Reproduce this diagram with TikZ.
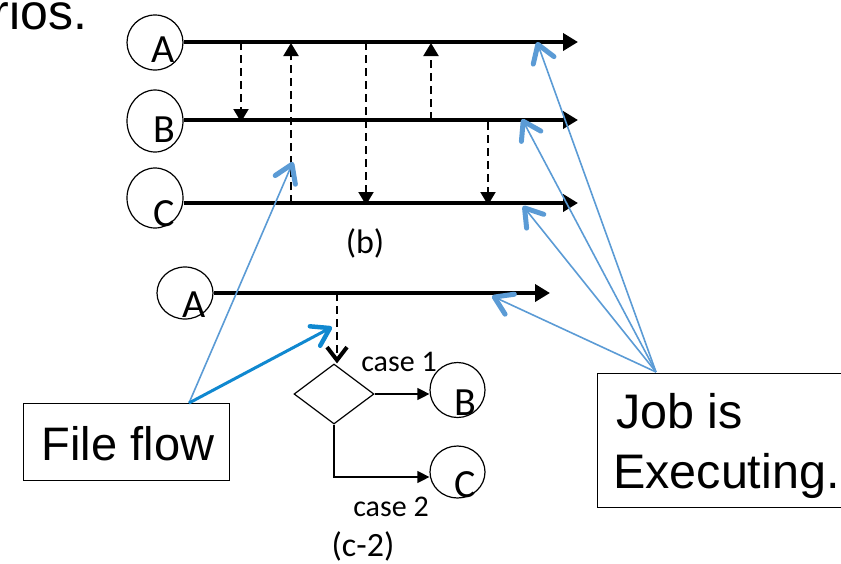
\documentclass[tikz,border=0pt]{standalone}
\usepackage{fontspec}
\setmainfont{Liberation Sans}
\newfontfamily\calib{Carlito}
\usetikzlibrary{arrows.meta,shapes.geometric}
\definecolor{noteblue}{RGB}{91,155,213}
\definecolor{flowblue}{RGB}{16,136,208}

\begin{document}
\begin{tikzpicture}[x=1pt,y=-1pt,
  proc/.style={draw,ellipse,line width=1.2pt,minimum width=56pt,inner sep=0pt},
  letter/.style={font=\calib\fontsize{40}{40}\selectfont,inner sep=0pt,anchor=base},
  caption/.style={font=\calib\fontsize{34}{34}\selectfont,inner sep=0pt},
  caselbl/.style={font=\calib\fontsize{30}{30}\selectfont,inner sep=0pt},
  bigtext/.style={font=\fontsize{47}{47}\selectfont,inner sep=0pt},
  jobtext/.style={font=\fontsize{48.5}{48.5}\selectfont,inner sep=0pt,anchor=base west},
  timeline/.style={line width=4pt,-{Triangle[length=15pt,width=17pt]}},
  msg/.style={line width=2pt,dash pattern=on 8pt off 5pt,-{Triangle[length=13pt,width=15pt]}},
  branch/.style={line width=1.2pt,-{Triangle[length=12pt,width=12pt]}},
  notebox/.style={draw,line width=1.3pt,inner sep=0pt},
  pointer/.style={draw=noteblue,line width=1.6pt,-{Straight Barb[length=17pt,width=22pt,line width=5pt,round]}},
  flowpointer/.style={draw=flowblue,line width=3pt,-{Straight Barb[length=17pt,width=22pt,line width=4.5pt,round]}}
]
\useasboundingbox (0,0) rectangle (841,563);

% heading text running off the top-left corner
\node[font=\fontsize{50}{50}\selectfont,inner sep=0pt,anchor=base east] (head) at (87.5,29) {rios.};

% ---- (b): three processes exchanging files ----
\node[proc,minimum height=55pt] (A1) at (155,42.5) {};
\node[proc,minimum height=62pt] (B1) at (155,121) {};
\node[proc,minimum height=60pt] (C1) at (155,198) {};
\node[letter] (A1t) at (163,62) {A};
\node[letter] (B1t) at (164,142) {B};
\node[letter] (C1t) at (164,226) {C};

\coordinate (A1e) at (578,42);
\coordinate (B1e) at (578,120);
\coordinate (C1e) at (578,203);
\draw[timeline] (A1.east |- A1e) -- (A1e);
\draw[timeline] (B1.east |- B1e) -- (B1e);
\draw[timeline] (C1.east |- C1e) -- (C1e);

% dashed file transfers between the timelines
\coordinate (m1s) at (241,42);  \coordinate (m1e) at (241,122);
\coordinate (m2s) at (291,203); \coordinate (m2e) at (291,43);
\coordinate (m3s) at (366,42);  \coordinate (m3e) at (366,205);
\coordinate (m4s) at (431,120); \coordinate (m4e) at (431,43);
\coordinate (m5s) at (488,122); \coordinate (m5e) at (488,205);
\draw[msg] (m1s) -- (m1e);
\draw[msg] (m2s) -- (m2e);
\draw[msg] (m3s) -- (m3e);
\draw[msg] (m4s) -- (m4e);
\draw[msg] (m5s) -- (m5e);

\node[caption] (capb) at (365,243) {(b)};

% ---- (c-2): conditional routing ----
\node[proc,minimum height=52pt] (A2) at (185,293) {};
\node[letter] (A2t) at (194,317) {A};
\coordinate (A2e) at (550,293);
\draw[timeline] (A2.east |- A2e) -- (A2e);

\node[draw,diamond,line width=1.2pt,minimum width=80pt,minimum height=60pt,inner sep=0pt] (dec) at (334,394) {};
\coordinate (d0) at (337,293);
\draw[line width=2pt,dash pattern=on 8pt off 5pt,-{Straight Barb[length=13pt,width=20pt,line width=4pt]}] (d0) -- (dec.north -| d0);

\node[proc,minimum width=55pt,minimum height=55pt] (B2) at (457.5,390) {};
\node[letter] (B2t) at (465,415) {B};
\node[proc,minimum width=55pt,minimum height=52pt] (C2) at (457.5,472) {};
\node[letter] (C2t) at (465,497) {C};

\draw[branch] (dec.east) -- (B2.west |- dec.east);
\coordinate (bend) at (334,477);
\draw[branch] (dec.south) -- (bend) -- (B2.west |- bend);

\node[caselbl] (c1) at (399,362) {case 1};
\node[caselbl] (c2) at (391,507) {case 2};
\node[caption] (capc) at (363,546) {(c-2)};

% ---- legend boxes ----
\node[notebox,anchor=north west,minimum width=206pt,minimum height=77pt] (ff) at (23,403) {};
\node[bigtext,anchor=base] (fft) at (128,460) {File flow};
\node[notebox,anchor=north west,minimum width=250pt,minimum height=134pt] (job) at (597,373) {};
\node[jobtext] (jobt1) at (616,428) {Job is};
\node[jobtext] (jobt2) at (613,488) {Executing.};

% pointers from the legend boxes
\coordinate (ffsrc) at (189,403);
\coordinate (ffp1) at (293,162);
\coordinate (ffp2) at (332,327);
\draw[pointer] (ffsrc) -- (ffp1);
\draw[flowpointer] (ffsrc) -- (ffp2);

\coordinate (jsrc) at (656,372);
\coordinate (jp1) at (537,42);
\coordinate (jp2) at (522,119);
\coordinate (jp3) at (523,206);
\coordinate (jp4) at (492,296);
\draw[pointer] (jsrc) -- (jp1);
\draw[pointer] (jsrc) -- (jp2);
\draw[pointer] (jsrc) -- (jp3);
\draw[pointer] (jsrc) -- (jp4);
\end{tikzpicture}
\end{document}
